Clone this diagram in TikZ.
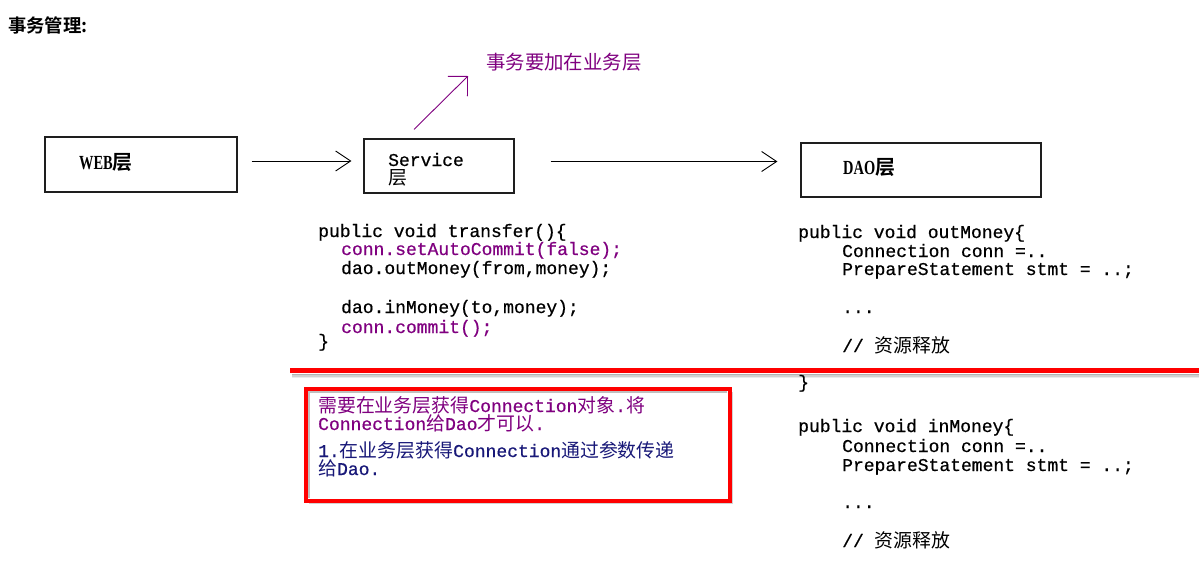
\documentclass[tikz,border=0pt]{standalone}
\usepackage{fontspec}
\setmonofont{Liberation Mono}[FakeBold=0.6]
\newfontfamily\cjk{Noto Sans CJK SC}[Scale=1.05, BoldFont={Noto Sans CJK SC Bold}]
\newfontfamily\serifb{Liberation Serif}[FakeStretch=0.72]
\usetikzlibrary{arrows.meta,shadows}
\definecolor{purp}{RGB}{128,0,128}
\definecolor{navy}{RGB}{24,24,120}
\definecolor{boxline}{RGB}{30,30,30}
\newcommand\codefont{\ttfamily\fontsize{18}{20}\selectfont}
\newcommand\zh[1]{{\cjk #1}}
\tikzset{
  layerbox/.style={draw=boxline, line width=1.2pt, inner sep=0pt},
  code/.style={anchor=base west, inner sep=0pt, font=\codefont},
  boxlabel/.style={anchor=base west, inner sep=0pt, font=\serifb\bfseries\fontsize{20}{22}\selectfont},
  flow/.style={draw=black, line width=0.9pt, -{Straight Barb[length=15pt,width=20pt,line width=0.9pt]}},
}
\begin{document}
\begin{tikzpicture}[x=1pt,y=-1pt]
\useasboundingbox[fill=white] (0,0) rectangle (1201,563);

% title
\node[anchor=base west, inner sep=0pt, font=\cjk\bfseries\fontsize{17.5}{20}\selectfont] (title) at (8,32) {事务管理:};

% layer boxes
\node[layerbox, minimum width=192pt, minimum height=55pt] (web) at (141,164.5) {};
\node[boxlabel] (webtxt) at (79,169) {WEB{\cjk\bfseries\fontsize{19}{20}\selectfont 层}};
\node[layerbox, minimum width=150pt, minimum height=54pt] (svc) at (439,166) {};
\node[code] (svctxt1) at (388,166) {Service};
\node[code] (svctxt2) at (388,184) {\zh{层}};
\node[layerbox, minimum width=240pt, minimum height=54pt] (dao) at (921,170) {};
\node[boxlabel] (daotxt) at (843,174) {DAO{\cjk\bfseries\fontsize{19}{20}\selectfont 层}};

% flow arrows
\draw[flow, shorten <=14pt, shorten >=12pt] ([yshift=3.5pt]web.east) -- ([yshift=3.5pt]web.east -| svc.west);
\draw[flow, shorten <=36pt, shorten >=23pt] ([yshift=4.5pt]svc.east) -- ([yshift=4.5pt]svc.east -| dao.west);

% note arrow
\coordinate (tip) at (468,76);
\draw[draw=purp, line width=0.9pt, -{Straight Barb[length=14pt,width=28pt,line width=0.9pt]}] ([xshift=-25pt,yshift=9pt]svc.north) -- (tip);
\node[anchor=base west, inner sep=0pt, text=purp, font=\cjk\fontsize{18.5}{20}\selectfont] (note) at (486,69) {事务要加在业务层};

% left code
\node[code] (l1) at (318,237) {public void transfer()\{};
\node[code, text=purp] (l2) at (341,255) {conn.setAutoCommit(false);};
\node[code] (l3) at (341,274) {dao.outMoney(from,money);};
\node[code] (l4) at (341,313) {dao.inMoney(to,money);};
\node[code, text=purp] (l5) at (341,333) {conn.commit();};
\node[code] (l6) at (318,347) {\}};

% right code
\node[code] (r1) at (798,238) {public void outMoney\{};
\node[code] (r2) at (842,257) {Connection conn =..};
\node[code] (r3) at (842,275) {PrepareStatement stmt = ..;};
\node[code] (r4) at (842,313) {...};
\node[code] (r5) at (842,352) {// \zh{资源释放}};
\node[code] (r6) at (798,388) {\}};
\node[code] (r7) at (798,432) {public void inMoney\{};
\node[code] (r8) at (842,452) {Connection conn =..};
\node[code] (r9) at (842,471) {PrepareStatement stmt = ..;};
\node[code] (r10) at (842,508) {...};
\node[code] (r11) at (842,547) {// \zh{资源释放}};

% red separator line with shadow
\foreach \d/\o in {1.5/0.30,3/0.18,4.5/0.08}
  \draw[black, opacity=\o, line width=1.6pt] (292,373+\d) -- (1199,373+\d);
\draw[red, line width=5pt] (290,370.5) -- (1199,370.5);

% red note box
\node[draw=red, line width=4pt, fill=white, minimum width=424pt, minimum height=112pt,
      drop shadow={shadow xshift=3pt, shadow yshift=-3pt, opacity=0.35}] (redbox) at (518,445) {};
\draw[black, opacity=0.25, line width=2pt] (309,498) -- (309,392) -- (727,392);

\node[code, text=purp] (t1) at (318,412) {\zh{需要在业务层获得}Connection\zh{对象}.\zh{将}};
\node[code, text=purp] (t2) at (318,430) {Connection\zh{给}Dao\zh{才可以}.};
\node[code, text=navy] (t3) at (318,457) {1.\zh{在业务层获得}Connection\zh{通过参数传递}};
\node[code, text=navy] (t4) at (318,475) {\zh{给}Dao.};
\end{tikzpicture}
\end{document}
